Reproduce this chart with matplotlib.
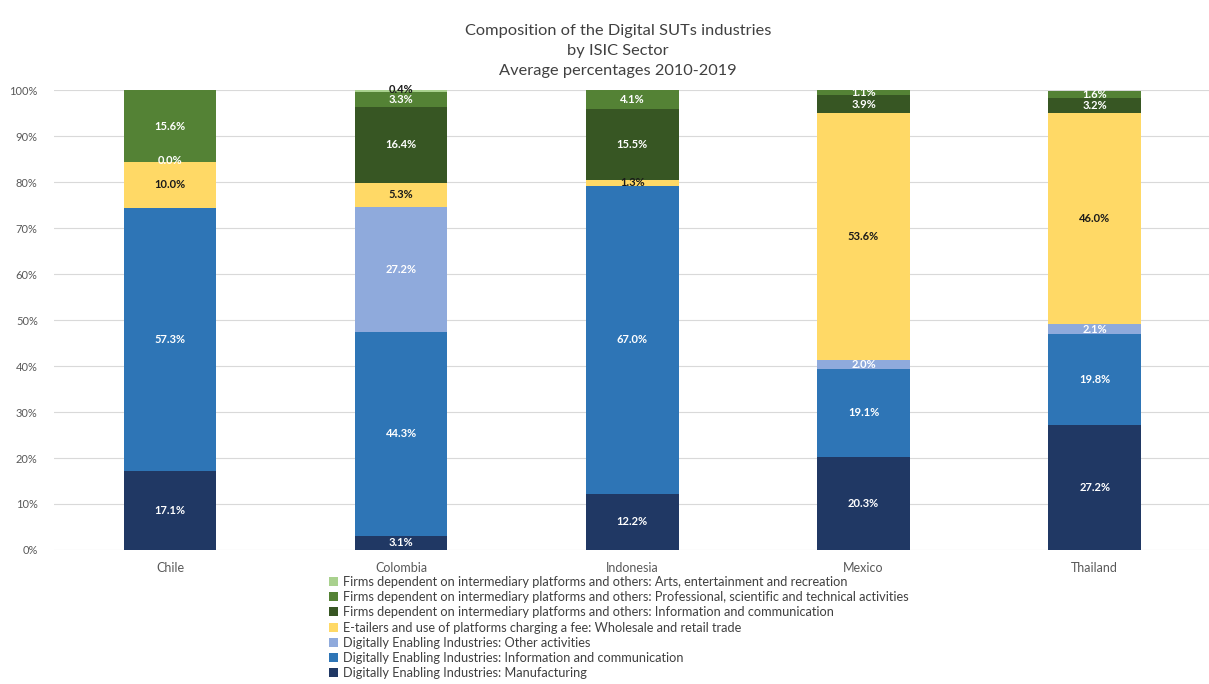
import numpy as np
import matplotlib.pyplot as plt

plt.rcParams['font.family'] = ['Lato', 'DejaVu Sans']

countries = ['Chile', 'Colombia', 'Indonesia', 'Mexico', 'Thailand']

series_names = [
    'Digitally Enabling Industries: Manufacturing',
    'Digitally Enabling Industries: Information and communication',
    'Digitally Enabling Industries: Other activities',
    'E-tailers and use of platforms charging a fee: Wholesale and retail trade',
    'Firms dependent on intermediary platforms and others: Information and communication',
    'Firms dependent on intermediary platforms and others: Professional, scientific and technical activities',
    'Firms dependent on intermediary platforms and others: Arts, entertainment and recreation',
]

nan = np.nan
manufacturing = [17.1, 3.1, 12.2, 20.3, 27.2]
ict_enabling = [57.3, 44.3, 67.0, 19.1, 19.8]
other_enabling = [nan, 27.2, nan, 2.0, 2.1]
wholesale = [10.0, 5.3, 1.3, 53.6, 46.0]
ict_platform = [0.0, 16.4, 15.5, 3.9, 3.2]
professional = [15.6, 3.3, 4.1, 1.1, 1.6]
arts = [nan, 0.4, nan, nan, nan]

values = [manufacturing, ict_enabling, other_enabling, wholesale,
          ict_platform, professional, arts]
colors = ['#203864', '#2E75B6', '#8FAADC', '#FFD966', '#375623', '#548235', '#A9D18E']
label_colors = ['white', 'white', 'white', '#1a1a1a', 'white', 'white', '#1a1a1a']

fig = plt.figure(figsize=(12.09, 6.84), dpi=100)
ax = fig.add_axes([0.045, 0.196, 0.956, 0.672])

x = np.arange(len(countries))
bottom = np.zeros(len(countries))
handles = []
for vals, col, lcol, name in zip(values, colors, label_colors, series_names):
    v = np.array(vals, dtype=float)
    h = np.nan_to_num(v)
    b = ax.bar(x, h, 0.4, bottom=bottom, color=col, label=name, zorder=2)
    handles.append(b)
    for i in range(len(x)):
        if not np.isnan(v[i]):
            yc = bottom[i] + h[i] / 2
            if h[i] < 1:
                yc += 0.4
            ax.text(x[i], yc, f'{v[i]:.1f}%', ha='center', va='center',
                    fontsize=8, fontweight='bold', color=lcol, zorder=3)
    bottom += h

ax.set_xlim(-0.5, 4.5)
ax.set_ylim(0, 100)
ax.set_yticks(np.arange(0, 101, 10))
ax.set_yticklabels([f'{t}%' for t in range(0, 101, 10)], fontsize=8, color='#595959')
ax.set_xticks(x)
ax.set_xticklabels(countries, fontsize=9, color='#595959')
ax.tick_params(length=0, pad=9)
ax.tick_params(axis='y', pad=12)
ax.grid(axis='y', color='#d9d9d9', linewidth=0.8, zorder=0)
for s in ax.spines.values():
    s.set_visible(False)

fig.text(0.511, 0.965, 'Composition of the Digital SUTs industries\nby ISIC Sector\nAverage percentages 2010-2019',
         ha='center', va='top', fontsize=11.8, color='#404040', linespacing=1.55)

leg = fig.legend(handles[::-1], series_names[::-1], loc='upper left',
                 bbox_to_anchor=(0.272, 0.158), frameon=False, fontsize=9.2,
                 handlelength=0.7, handleheight=0.7, handletextpad=0.4,
                 labelspacing=0.25, borderaxespad=0, borderpad=0)
for t in leg.get_texts():
    t.set_color('#404040')

fig.savefig('out.png', dpi=100)
